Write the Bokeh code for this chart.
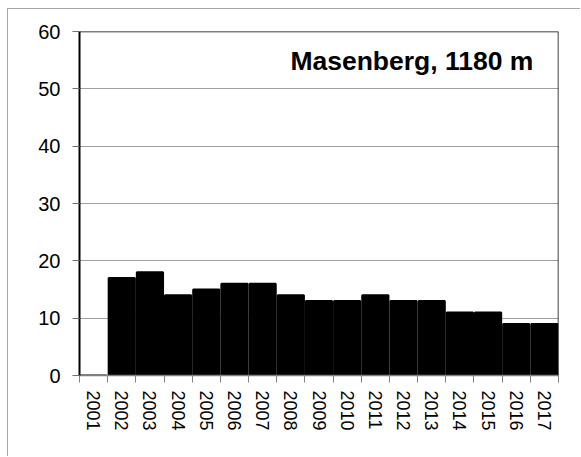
from bokeh.plotting import figure
from bokeh.models import FixedTicker, Span, Label, ColumnDataSource, Range1d
from bokeh.embed import file_html
from bokeh.resources import INLINE

years = ["2001", "2002", "2003", "2004", "2005", "2006", "2007", "2008", "2009",
         "2010", "2011", "2012", "2013", "2014", "2015", "2016", "2017"]
values = [0, 17, 18, 14, 15, 16, 16, 14, 13, 13, 14, 13, 13, 11, 11, 9, 9]
y_ticks = [0, 10, 20, 30, 40, 50, 60]
title_text = "Masenberg, 1180 m"

xs = list(range(1, len(years) + 1))
src = ColumnDataSource(dict(x=xs, top=values, year=years))

FONT = "Liberation Sans"

p = figure(width=573, height=448, output_backend="svg", toolbar_location=None,
           x_range=Range1d(0.5, len(years) + 0.5), y_range=Range1d(0, 60),
           min_border_left=71, min_border_top=22, min_border_right=23, min_border_bottom=82)
p.styles = {"margin-left": "7px", "margin-top": "8px",
            "border-left": "1px solid #a6a6a6", "border-top": "1px solid #a6a6a6"}
p.outline_line_color = None
p.background_fill_color = "white"
p.border_fill_color = "white"

p.vbar(x="x", top="top", bottom=0, width=0.93, source=src,
       fill_color="black", line_color="black", line_width=2)

# frame top/right
p.add_layout(Span(location=60, dimension="width", line_color="black", line_width=1.5))
p.add_layout(Span(location=len(years) + 0.5, dimension="height", line_color="black", line_width=1.5))

# grid
p.xgrid.visible = False
p.ygrid.ticker = FixedTicker(ticks=y_ticks)
p.ygrid.grid_line_color = "#a0a0a0"
p.ygrid.grid_line_width = 1

# y axis
p.yaxis.ticker = FixedTicker(ticks=y_ticks)
p.yaxis.axis_line_color = "black"
p.yaxis.axis_line_width = 2
p.yaxis.major_tick_line_color = "#707070"
p.yaxis.major_tick_out = 7
p.yaxis.major_tick_in = 0
p.yaxis.minor_tick_line_color = None
p.yaxis.major_label_text_font = FONT
p.yaxis.major_label_text_font_size = "20px"
p.yaxis.major_label_text_color = "black"
p.yaxis.major_label_standoff = 12

# x axis
boundaries = [i + 0.5 for i in range(0, len(years) + 1)]
p.xaxis.ticker = FixedTicker(ticks=xs, minor_ticks=boundaries)
p.xaxis.major_label_overrides = {x: y for x, y in zip(xs, years)}
p.xaxis.major_label_orientation = "vertical"
p.xaxis.major_tick_line_color = None
p.xaxis.major_tick_out = 0
p.xaxis.major_tick_in = 0
p.xaxis.minor_tick_line_color = "#808080"
p.xaxis.minor_tick_out = 7
p.xaxis.minor_tick_in = 0
p.xaxis.axis_line_color = "#808080"
p.xaxis.axis_line_width = 1.5
p.xaxis.major_label_text_font = FONT
p.xaxis.major_label_text_font_size = "18px"
p.xaxis.major_label_text_color = "black"
p.xaxis.major_label_standoff = 8

p.add_layout(Label(x=16.61, y=54.9, text=title_text, text_align="right",
                   text_baseline="alphabetic", text_font=FONT, text_font_size="26.5px",
                   text_font_style="bold", text_color="black"))

open("out.html", "w").write(file_html(p, INLINE))
